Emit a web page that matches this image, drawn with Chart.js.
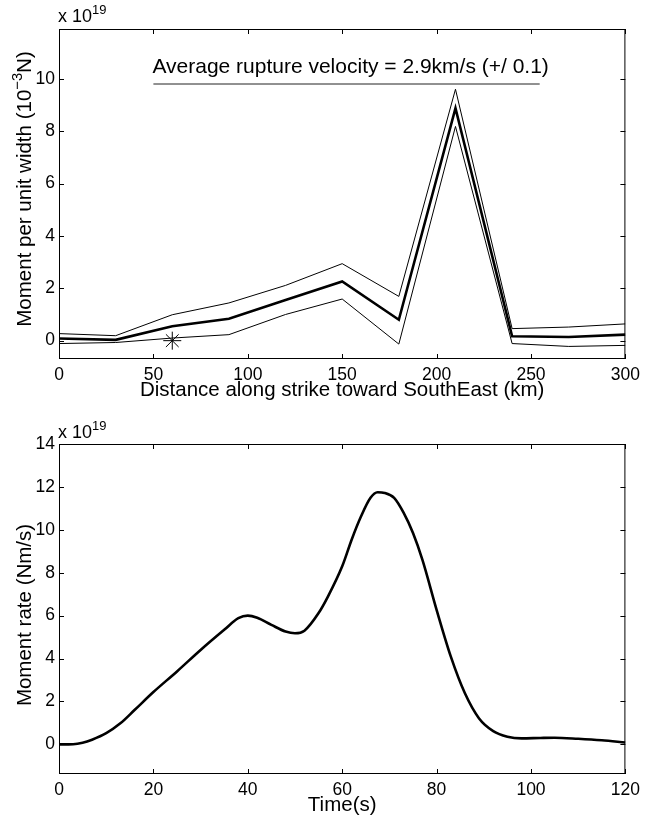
<!DOCTYPE html>
<html>
<head>
<meta charset="utf-8">
<script src="https://cdn.jsdelivr.net/npm/chart.js@4"></script>
<style>
  body { margin: 0; background: #fff; }
  canvas { position: absolute; left: 0; }
  #top { top: 0; }
  #bottom { top: 410px; }
</style>
</head>
<body>
<canvas id="top" width="646" height="410"></canvas>
<canvas id="bottom" width="646" height="409"></canvas>
<script>
// top panel: moment per unit width along strike (x 10^19)
var distanceKm = [0, 30, 60, 90, 120, 150, 180, 210, 240, 270, 300];
var momentMean = [0.08, 0.03, 0.55, 0.84, 1.55, 2.26, 0.80, 8.88, 0.17, 0.14, 0.23];
var momentUpper = [0.27, 0.19, 0.99, 1.44, 2.11, 2.94, 1.69, 9.60, 0.46, 0.52, 0.64];
var momentLower = [-0.11, -0.07, 0.10, 0.23, 1.00, 1.59, -0.13, 8.18, -0.11, -0.22, -0.18];
var hypocenter = [60, 0];
var velocityText = "Average rupture velocity = 2.9km/s (+/ 0.1)";
var velocityLineX = [50, 254.6];
var velocityLineY = 9.8;
var topXTicks = [0, 50, 100, 150, 200, 250, 300];
var topYTicks = [0, 2, 4, 6, 8, 10];

// bottom panel: moment rate function (x 10^19)
var timeS = [0, 3, 5, 7, 10, 13, 16, 20, 25, 30, 35, 38, 40, 42, 45, 48, 50, 52, 55, 57, 60, 62, 64, 66, 67.5, 69, 71, 73, 75, 77, 80, 83, 86, 89, 92, 95, 98, 102, 105, 110, 115, 120];
var momentRate = [0, 0.01, 0.08, 0.22, 0.52, 0.98, 1.6, 2.44, 3.4, 4.4, 5.34, 5.88, 6.0, 5.9, 5.57, 5.26, 5.18, 5.3, 6.12, 6.9, 8.3, 9.54, 10.63, 11.49, 11.75, 11.72, 11.49, 10.8, 9.85, 8.6, 6.27, 4.1, 2.38, 1.21, 0.62, 0.36, 0.28, 0.3, 0.31, 0.26, 0.19, 0.09];
var bottomXTicks = [0, 20, 40, 60, 80, 100, 120];
var bottomYTicks = [0, 2, 4, 6, 8, 10, 12, 14];

var FONT = "'Liberation Sans', Arial, Helvetica, sans-serif";

function pts(xs, ys) {
  return xs.map(function(x, i) { return {x: x, y: ys[i]}; });
}

// draws text with a raised superscript part
function drawSup(ctx, parts, x, y, size) {
  parts.forEach(function(p) {
    var s = p.sup ? size * 0.72 : size;
    ctx.font = s + "px " + FONT;
    ctx.fillText(p.t, x, p.sup ? y - size * 0.45 : y);
    x += ctx.measureText(p.t).width;
  });
  return x;
}
function measureSup(ctx, parts, size) {
  var w = 0;
  parts.forEach(function(p) {
    ctx.font = (p.sup ? size * 0.72 : size) + "px " + FONT;
    w += ctx.measureText(p.t).width;
  });
  return w;
}

// matlab style box with inward ticks, axis labels and the exponent
var matlabBox = {
  id: 'matlabBox',
  afterDraw: function(chart, args, opts) {
    var ctx = chart.ctx, a = chart.chartArea;
    var xs = chart.scales.x, ys = chart.scales.y;
    ctx.save();
    ctx.strokeStyle = '#000';
    ctx.lineWidth = 1;
    ctx.strokeRect(a.left + 0.5, a.top + 0.5, a.right - a.left - 1, a.bottom - a.top - 1);
    ctx.beginPath();
    opts.xTicks.forEach(function(v) {
      var px = Math.round(xs.getPixelForValue(v)) + 0.5;
      ctx.moveTo(px, a.bottom); ctx.lineTo(px, a.bottom - 5);
      ctx.moveTo(px, a.top); ctx.lineTo(px, a.top + 5);
    });
    opts.yTicks.forEach(function(v) {
      var py = Math.round(ys.getPixelForValue(v)) + 0.5;
      ctx.moveTo(a.left, py); ctx.lineTo(a.left + 5, py);
      ctx.moveTo(a.right, py); ctx.lineTo(a.right - 5, py);
    });
    ctx.stroke();

    ctx.fillStyle = '#000';
    ctx.textBaseline = 'alphabetic';
    // exponent
    drawSup(ctx, [{t: 'x 10'}, {t: '19', sup: true}], a.left - 1, a.top - opts.expGap, 18);

    // x title
    var xw = measureSup(ctx, [{t: opts.xTitle}], 20.5);
    ctx.font = "20.5px " + FONT;
    ctx.fillText(opts.xTitle, (a.left + a.right) / 2 - xw / 2, opts.xTitleY);

    // y title, rotated
    var w = measureSup(ctx, opts.yTitle, 20.5);
    ctx.translate(opts.yTitleX, opts.yTitleMid);
    ctx.rotate(-Math.PI / 2);
    drawSup(ctx, opts.yTitle, -w / 2, 0, 20.5);
    ctx.restore();

    if (opts.note) {
      ctx.save();
      ctx.font = "21px " + FONT;
      ctx.fillStyle = '#000';
      ctx.fillText(opts.note, xs.getPixelForValue(velocityLineX[0]) - 1, ys.getPixelForValue(velocityLineY) - 11.5);
      ctx.restore();
    }
  }
};

function baseOptions(xMin, xMax, yMin, yMax, xTicks, yTicks, xh) {
  return {
    responsive: false,
    animation: false,
    plugins: { legend: { display: false }, tooltip: { enabled: false } },
    scales: {
      x: {
        type: 'linear', min: xMin, max: xMax,
        afterBuildTicks: function(s) { s.ticks = xTicks.map(function(v) { return {value: v}; }); },
        afterFit: function(s) { s.height = xh; },
        border: { display: false },
        grid: { display: false, drawTicks: false },
        ticks: { color: '#000', font: { family: FONT, size: 17.5 }, padding: 6, maxRotation: 0 }
      },
      y: {
        type: 'linear', min: yMin, max: yMax,
        afterBuildTicks: function(s) { s.ticks = yTicks.map(function(v) { return {value: v}; }); },
        afterFit: function(s) { s.width = 59; },
        border: { display: false },
        grid: { display: false, drawTicks: false },
        ticks: { color: '#000', font: { family: FONT, size: 17.5 }, padding: 4 }
      }
    }
  };
}

var topOpts = baseOptions(0, 300, -0.7, 11.9, topXTicks, topYTicks, 51);
topOpts.layout = { padding: { top: 29, right: 20, left: 0, bottom: 0 } };
topOpts.plugins.matlabBox = {
  xTicks: topXTicks, yTicks: topYTicks, expGap: 7,
  xTitle: 'Distance along strike toward SouthEast (km)', xTitleY: 396,
  yTitle: [{t: 'Moment per unit width (10'}, {t: '\u22123', sup: true}, {t: 'N)'}],
  yTitleX: 31, yTitleMid: 189
};
topOpts.plugins.matlabBox.note = velocityText;

new Chart(document.getElementById('top'), {
  type: 'line',
  data: {
    datasets: [
      { data: pts(distanceKm, momentUpper), borderColor: '#000', borderWidth: 1, pointRadius: 0, tension: 0 },
      { data: pts(distanceKm, momentLower), borderColor: '#000', borderWidth: 1, pointRadius: 0, tension: 0 },
      { data: pts(distanceKm, momentMean), borderColor: '#000', borderWidth: 2.6, pointRadius: 0, tension: 0 },
      { data: [{x: hypocenter[0], y: hypocenter[1]}], showLine: false, pointStyle: 'star', pointRadius: 9,
        borderColor: '#000', borderWidth: 1, backgroundColor: '#000' },
      { data: [{x: velocityLineX[0], y: velocityLineY}, {x: velocityLineX[1], y: velocityLineY}],
        borderColor: '#222', borderWidth: 1, pointRadius: 0 }
    ]
  },
  options: topOpts,
  plugins: [matlabBox]
});

var botOpts = baseOptions(0, 120, -1.38, 14, bottomXTicks, bottomYTicks, 45);
botOpts.layout = { padding: { top: 34, right: 20, left: 0, bottom: 0 } };
botOpts.plugins.matlabBox = {
  xTicks: bottomXTicks, yTicks: bottomYTicks, expGap: 6,
  xTitle: 'Time(s)', xTitleY: 401,
  yTitle: [{t: 'Moment rate (Nm/s)'}],
  yTitleX: 31, yTitleMid: 205
};

new Chart(document.getElementById('bottom'), {
  type: 'line',
  data: {
    datasets: [
      { data: pts(timeS, momentRate), borderColor: '#000', borderWidth: 2.6, pointRadius: 0,
        cubicInterpolationMode: 'monotone' }
    ]
  },
  options: botOpts,
  plugins: [matlabBox]
});
</script>
</body>
</html>
